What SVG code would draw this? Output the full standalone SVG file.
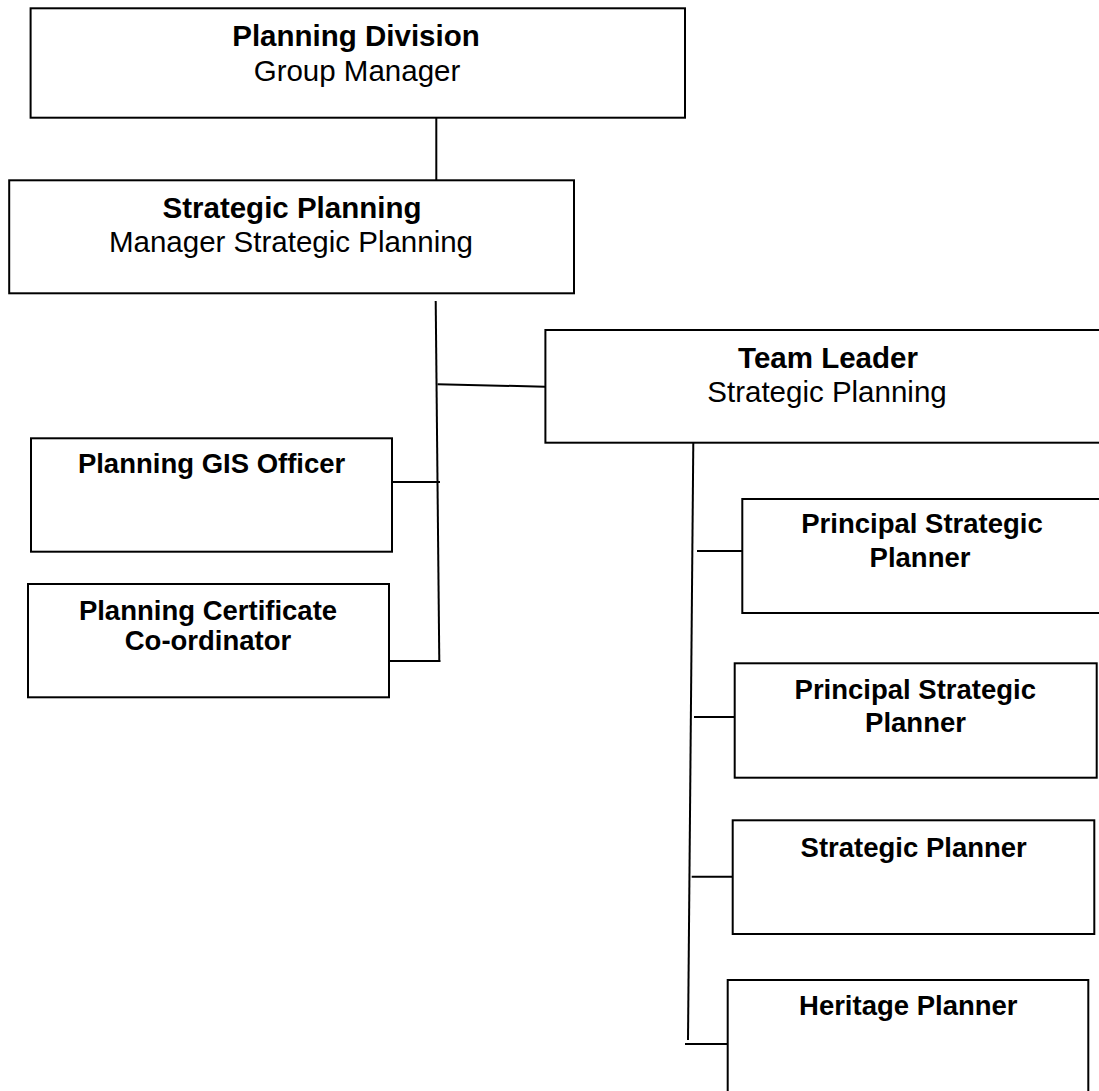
<svg xmlns="http://www.w3.org/2000/svg" width="1099" height="1091" viewBox="0 0 1099 1091">
<style>
.box{fill:#fff;stroke:#000;stroke-width:2}
.ln{stroke:#000;stroke-width:2;fill:none}
text{font-family:"Liberation Sans",Arial,sans-serif;fill:#000;text-anchor:middle}
.h{font-size:29.5px;font-weight:bold}
.r{font-size:29.5px}
.s{font-size:27.5px;font-weight:bold}
</style>
<rect width="1099" height="1091" fill="#fff"/>
<g id="connectors">
<line class="ln" x1="436.3" y1="118" x2="436.3" y2="180"/>
<line class="ln" x1="435.7" y1="301" x2="439.3" y2="662"/>
<line class="ln" x1="437.5" y1="384.3" x2="545" y2="386.7"/>
<line class="ln" x1="392" y1="482" x2="440" y2="482"/>
<line class="ln" x1="389" y1="661" x2="440.3" y2="661"/>
<line class="ln" x1="693.3" y1="443" x2="688" y2="1040"/>
<line class="ln" x1="697" y1="551" x2="742" y2="551"/>
<line class="ln" x1="694" y1="717" x2="738.7" y2="717"/>
<line class="ln" x1="691.7" y1="876.7" x2="736.7" y2="876.7"/>
<line class="ln" x1="685" y1="1044" x2="729" y2="1044"/>
</g>
<g id="planning-division">
<rect class="box" x="30.6" y="8.3" width="654.4" height="109.4"/>
<text class="h" x="356" y="46">Planning Division</text>
<text class="r" x="357" y="81">Group Manager</text>
</g>
<g id="strategic-planning">
<rect class="box" x="9.2" y="180.3" width="564.8" height="113"/>
<text class="h" x="292" y="218.3">Strategic Planning</text>
<text class="r" x="291" y="251.7">Manager Strategic Planning</text>
</g>
<g id="team-leader">
<rect class="box" x="545.4" y="330" width="600" height="112.7"/>
<text class="h" x="828" y="368.3">Team Leader</text>
<text class="r" x="827" y="401.7">Strategic Planning</text>
</g>
<g id="gis-officer">
<rect class="box" x="31" y="438.3" width="361" height="113.4"/>
<text class="s" x="211.6" y="473.3">Planning GIS Officer</text>
</g>
<g id="certificate-coordinator">
<rect class="box" x="28" y="584" width="361" height="113.3"/>
<text class="s" x="208" y="620">Planning Certificate</text>
<text class="s" x="208" y="650">Co-ordinator</text>
</g>
<g id="principal-1">
<rect class="box" x="742.3" y="499" width="360" height="114"/>
<text class="s" x="922" y="533.3">Principal Strategic</text>
<text class="s" x="920" y="566.7">Planner</text>
</g>
<g id="principal-2">
<rect class="box" x="734.7" y="663.3" width="362" height="114.4"/>
<text class="s" x="915.3" y="699.3">Principal Strategic</text>
<text class="s" x="915.5" y="731.7">Planner</text>
</g>
<g id="strategic-planner">
<rect class="box" x="732.7" y="820.3" width="361.6" height="113.7"/>
<text class="s" x="913.7" y="856.7">Strategic Planner</text>
</g>
<g id="heritage-planner">
<rect class="box" x="727.7" y="980" width="360.6" height="130"/>
<text class="s" x="908.3" y="1015">Heritage Planner</text>
</g>
</svg>
